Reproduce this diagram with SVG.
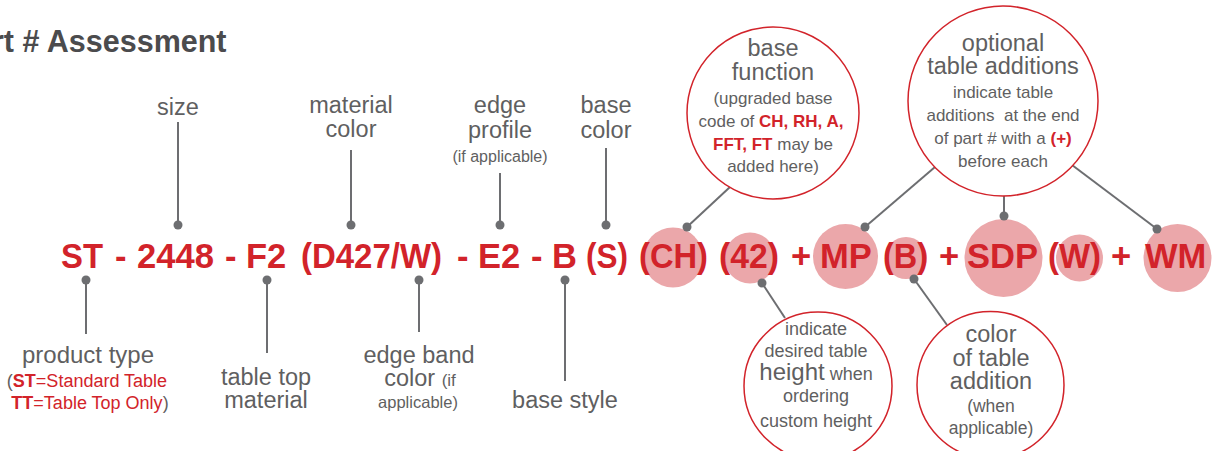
<svg xmlns="http://www.w3.org/2000/svg" width="1220" height="451" viewBox="0 0 1220 451">
<style>
.t{font-family:"Liberation Sans",Arial,sans-serif;fill:#5f5f61;text-anchor:middle}
.b{font-size:23.5px}
.r{fill:#d2232a}
.rb{fill:#d2232a;font-weight:bold}
.title{font-family:"Liberation Sans",Arial,sans-serif;font-weight:bold;font-size:30.5px;fill:#4b4b4d}
.code{font-family:"Liberation Sans",Arial,sans-serif;font-weight:bold;font-size:34.5px;fill:#d2232a}
.pink{fill:#eba7aa}
.ring{fill:#fff;stroke:#d2232a;stroke-width:1.5}
.conn{stroke:#6d6e71;stroke-width:2;fill:none}
.dot{fill:#6d6e71}
</style>
<rect width="1220" height="451" fill="#fff"/>
<g id="title"><text class="title" x="-8" y="52">rt # Assessment</text></g>

<g id="highlights">
<circle class="pink" cx="673" cy="257.5" r="30"/>
<circle class="pink" cx="750" cy="258" r="25.5"/>
<circle class="pink" cx="845.5" cy="256.5" r="32.5"/>
<circle class="pink" cx="906" cy="258" r="21"/>
<circle class="pink" cx="1003.5" cy="258" r="39"/>
<circle class="pink" cx="1079.5" cy="258" r="23.5"/>
<circle class="pink" cx="1177.5" cy="258" r="34"/>
</g>

<g id="part-number">
<text class="code" x="61" y="268" textLength="42" lengthAdjust="spacingAndGlyphs">ST</text>
<text class="code" x="115" y="268">-</text>
<text class="code" x="137" y="268" textLength="77" lengthAdjust="spacingAndGlyphs">2448</text>
<text class="code" x="225" y="268">-</text>
<text class="code" x="246" y="268">F2</text>
<text class="code" x="301" y="268" textLength="141" lengthAdjust="spacingAndGlyphs">(D427/W)</text>
<text class="code" x="457" y="268">-</text>
<text class="code" x="478" y="268">E2</text>
<text class="code" x="531" y="268">-</text>
<text class="code" x="552" y="268">B</text>
<text class="code" x="586" y="268" textLength="42" lengthAdjust="spacingAndGlyphs">(S)</text>
<text class="code" x="639" y="268" textLength="69" lengthAdjust="spacingAndGlyphs">(CH)</text>
<text class="code" x="719" y="268" textLength="60" lengthAdjust="spacingAndGlyphs">(42)</text>
<text class="code" x="791" y="268">+</text>
<text class="code" x="820" y="268">MP</text>
<text class="code" x="883" y="268" textLength="45" lengthAdjust="spacingAndGlyphs">(B)</text>
<text class="code" x="939" y="268">+</text>
<text class="code" x="967" y="268" textLength="71" lengthAdjust="spacingAndGlyphs">SDP</text>
<text class="code" x="1048" y="268" textLength="53" lengthAdjust="spacingAndGlyphs">(W)</text>
<text class="code" x="1111" y="268">+</text>
<text class="code" x="1145" y="268">WM</text>
</g>

<g id="connectors">
<line class="conn" x1="178" y1="122" x2="178" y2="225"/>
<line class="conn" x1="351" y1="150" x2="351" y2="225"/>
<line class="conn" x1="500" y1="173" x2="500" y2="225"/>
<line class="conn" x1="606" y1="148" x2="606" y2="225"/>
<line class="conn" x1="86" y1="280" x2="86" y2="334"/>
<line class="conn" x1="267" y1="280" x2="267" y2="353"/>
<line class="conn" x1="419" y1="280" x2="419" y2="332"/>
<line class="conn" x1="565" y1="280" x2="565" y2="381"/>
<line class="conn" x1="730" y1="187" x2="687" y2="227"/>
<line class="conn" x1="935" y1="167" x2="865" y2="227"/>
<line class="conn" x1="1072" y1="165" x2="1157" y2="229"/>
<line class="conn" x1="1004" y1="196" x2="1004" y2="216"/>
<line class="conn" x1="762" y1="283" x2="785" y2="318"/>
<line class="conn" x1="914" y1="279" x2="947" y2="325"/>
<circle class="dot" cx="178" cy="225" r="4.5"/>
<circle class="dot" cx="351" cy="225" r="4.5"/>
<circle class="dot" cx="500" cy="225" r="4.5"/>
<circle class="dot" cx="606" cy="225" r="4.5"/>
<circle class="dot" cx="86" cy="280" r="4.5"/>
<circle class="dot" cx="267" cy="280" r="4.5"/>
<circle class="dot" cx="419" cy="280" r="4.5"/>
<circle class="dot" cx="565" cy="280" r="4.5"/>
<circle class="dot" cx="687" cy="227" r="4.5"/>
<circle class="dot" cx="865" cy="227" r="4.5"/>
<circle class="dot" cx="1157" cy="229" r="4.5"/>
<circle class="dot" cx="1004" cy="216" r="4.5"/>
<circle class="dot" cx="762" cy="283" r="4.5"/>
<circle class="dot" cx="914" cy="279" r="4.5"/>
</g>

<g id="size"><text class="t b" x="178" y="115">size</text></g>
<g id="material-color"><text class="t b" x="351" y="113">material</text><text class="t b" x="351" y="137">color</text></g>
<g id="edge-profile"><text class="t b" x="500" y="113">edge</text><text class="t b" x="500" y="138">profile</text><text class="t" x="500" y="162" font-size="16">(if applicable)</text></g>
<g id="base-color"><text class="t b" x="606" y="113">base</text><text class="t b" x="606" y="138">color</text></g>

<g id="product-type"><text class="t" x="88" y="363" font-size="24">product type</text>
<text class="t" x="87" y="387" font-size="18">(<tspan class="rb">ST</tspan><tspan class="r">=Standard Table</tspan></text>
<text class="t" x="90" y="409" font-size="18"><tspan class="rb">TT</tspan><tspan class="r">=Table Top Only</tspan>)</text></g>
<g id="table-top-material"><text class="t" x="266" y="385" font-size="23.5">table top</text><text class="t" x="266" y="408" font-size="23.5">material</text></g>
<g id="edge-band-color"><text class="t" x="419" y="363" font-size="23.5">edge band</text><text class="t" x="420" y="386" font-size="23.5">color <tspan font-size="17">(if</tspan></text><text class="t" x="418" y="408" font-size="16.5">applicable)</text></g>
<g id="base-style"><text class="t b" x="565" y="408">base style</text></g>

<g id="base-function">
<circle class="ring" cx="773" cy="113" r="86"/>
<text class="t b" x="773" y="56">base</text>
<text class="t b" x="773" y="80">function</text>
<text class="t" x="773" y="104" font-size="17">(upgraded base</text>
<text class="t" x="771" y="127" font-size="17">code of <tspan class="rb">CH, RH, A,</tspan></text>
<text class="t" x="773" y="150" font-size="17"><tspan class="rb">FFT, FT</tspan> may be</text>
<text class="t" x="773" y="172" font-size="17">added here)</text>
</g>

<g id="optional-table-additions">
<circle class="ring" cx="1003" cy="101" r="95"/>
<text class="t b" x="1003" y="51">optional</text>
<text class="t b" x="1003" y="74">table additions</text>
<text class="t" x="1003" y="98" font-size="17">indicate table</text>
<text class="t" x="1003" y="121" font-size="17" xml:space="preserve">additions  at the end</text>
<text class="t" x="1003" y="144" font-size="17">of part # with a <tspan class="rb">(+)</tspan></text>
<text class="t" x="1003" y="167" font-size="17">before each</text>
</g>

<g id="height">
<circle class="ring" cx="818" cy="386" r="74"/>
<text class="t" x="816" y="335" font-size="18">indicate</text>
<text class="t" x="816" y="357" font-size="18">desired table</text>
<text class="t" x="816" y="380" font-size="18"><tspan font-size="24">height</tspan> when</text>
<text class="t" x="816" y="402" font-size="18">ordering</text>
<text class="t" x="816" y="427" font-size="18">custom height</text>
</g>

<g id="addition-color">
<circle class="ring" cx="990.5" cy="385" r="73.5"/>
<text class="t" x="991" y="342" font-size="23.5">color</text>
<text class="t" x="991" y="365.5" font-size="23.5">of table</text>
<text class="t" x="991" y="389" font-size="23.5">addition</text>
<text class="t" x="991" y="412" font-size="17.5">(when</text>
<text class="t" x="991" y="434" font-size="17.5">applicable)</text>
</g>
</svg>
